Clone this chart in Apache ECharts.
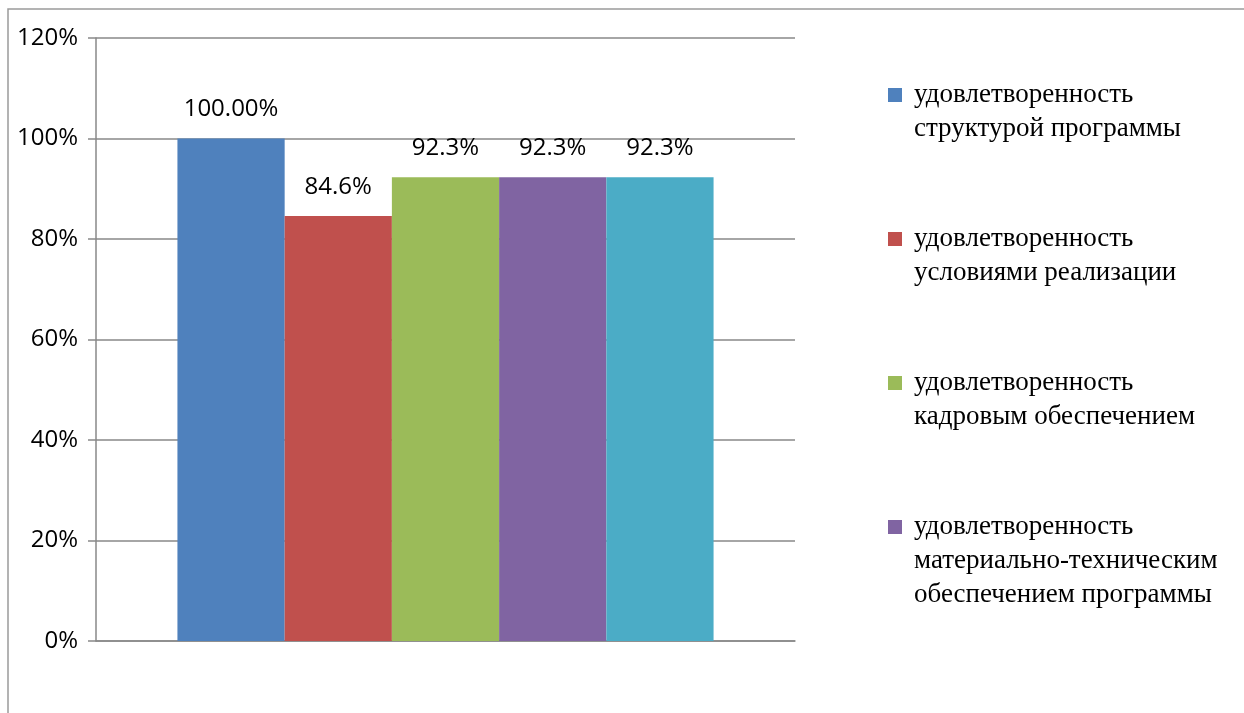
<!DOCTYPE html>
<html>
<head>
<meta charset="utf-8">
<title>Удовлетворенность</title>
<script src="https://cdn.jsdelivr.net/npm/echarts@6/dist/echarts.min.js"></script>
<style>
  html, body { margin: 0; padding: 0; background: #fff; }
  #chart { width: 1244px; height: 713px; }
</style>
</head>
<body>
<div id="chart"></div>
<script>
// данные диаграммы
const categories = ['']
const seriesNames = [
  'удовлетворенность\nструктурой программы',
  'удовлетворенность\nусловиями реализации',
  'удовлетворенность\nкадровым обеспечением',
  'удовлетворенность\nматериально-техническим\nобеспечением программы',
  'удовлетворенность (5)'
]
const seriesValues = [100, 84.6, 92.3, 92.3, 92.3]
const labelDigits = [2, 1, 1, 1, 1]
const legendShown = 4
const yTicks = [0, 20, 40, 60, 80, 100, 120]
const colors = ['#4F81BD', '#C0504D', '#9BBB59', '#8064A2', '#4BACC6']

const LINE_H = 34
const LEGEND_LINES = 5
const gray = '#898989'

const chart = echarts.init(document.getElementById('chart'))

// пустые строки сверху/снизу — чтобы значок стоял на уровне первой строки
const legendFormatter = name => {
  const n = name.split('\n').length
  const above = (LEGEND_LINES - 1) / 2
  const below = LEGEND_LINES - above - n
  return '\n'.repeat(above) + name + '\n'.repeat(Math.max(below, 0))
}

const option = {
  animation: false,
  color: colors,
  grid: { left: 96, right: 449, top: 38, bottom: 72 },
  legend: {
    orient: 'vertical',
    left: 888,
    top: 10,
    padding: 0,
    itemGap: 144 - LEGEND_LINES * LINE_H,
    itemWidth: 14,
    itemHeight: 14,
    icon: 'rect',
    selectedMode: false,
    data: seriesNames.slice(0, legendShown),
    formatter: legendFormatter,
    textStyle: {
      fontFamily: 'Liberation Serif',
      fontSize: 27,
      lineHeight: LINE_H,
      color: '#000',
      padding: [0, 0, 0, 7]
    }
  },
  xAxis: {
    type: 'category',
    data: categories,
    axisLine: { lineStyle: { color: gray, width: 1.5 } },
    axisTick: { show: false },
    axisLabel: { show: false }
  },
  yAxis: {
    type: 'value',
    min: yTicks[0],
    max: yTicks[yTicks.length - 1],
    interval: yTicks[1] - yTicks[0],
    axisLine: { show: true, lineStyle: { color: gray, width: 1.5 } },
    axisTick: { show: true, length: 8, lineStyle: { color: gray, width: 1.5 } },
    splitLine: { lineStyle: { color: gray, width: 1.5 } },
    axisLabel: {
      formatter: v => v + '%',
      margin: 18,
      fontFamily: 'Open Sans',
      fontSize: 24,
      color: '#000'
    }
  },
  series: seriesNames.map((name, i) => ({
    name,
    type: 'bar',
    barGap: '0%',
    barCategoryGap: '23.3%',
    data: [seriesValues[i]],
    label: {
      show: true,
      position: 'top',
      distance: 17,
      fontFamily: 'Open Sans',
      fontSize: 24,
      color: '#000',
      formatter: p => p.value.toFixed(labelDigits[i]) + '%'
    }
  })),
  graphic: [
    {
      type: 'polyline',
      silent: true,
      shape: { points: [[8, 713], [8, 9], [1244, 9]] },
      style: { stroke: '#9a9a9a', lineWidth: 1.5, fill: null }
    }
  ]
}

chart.setOption(option)
window.addEventListener('resize', () => chart.resize())
</script>
</body>
</html>
